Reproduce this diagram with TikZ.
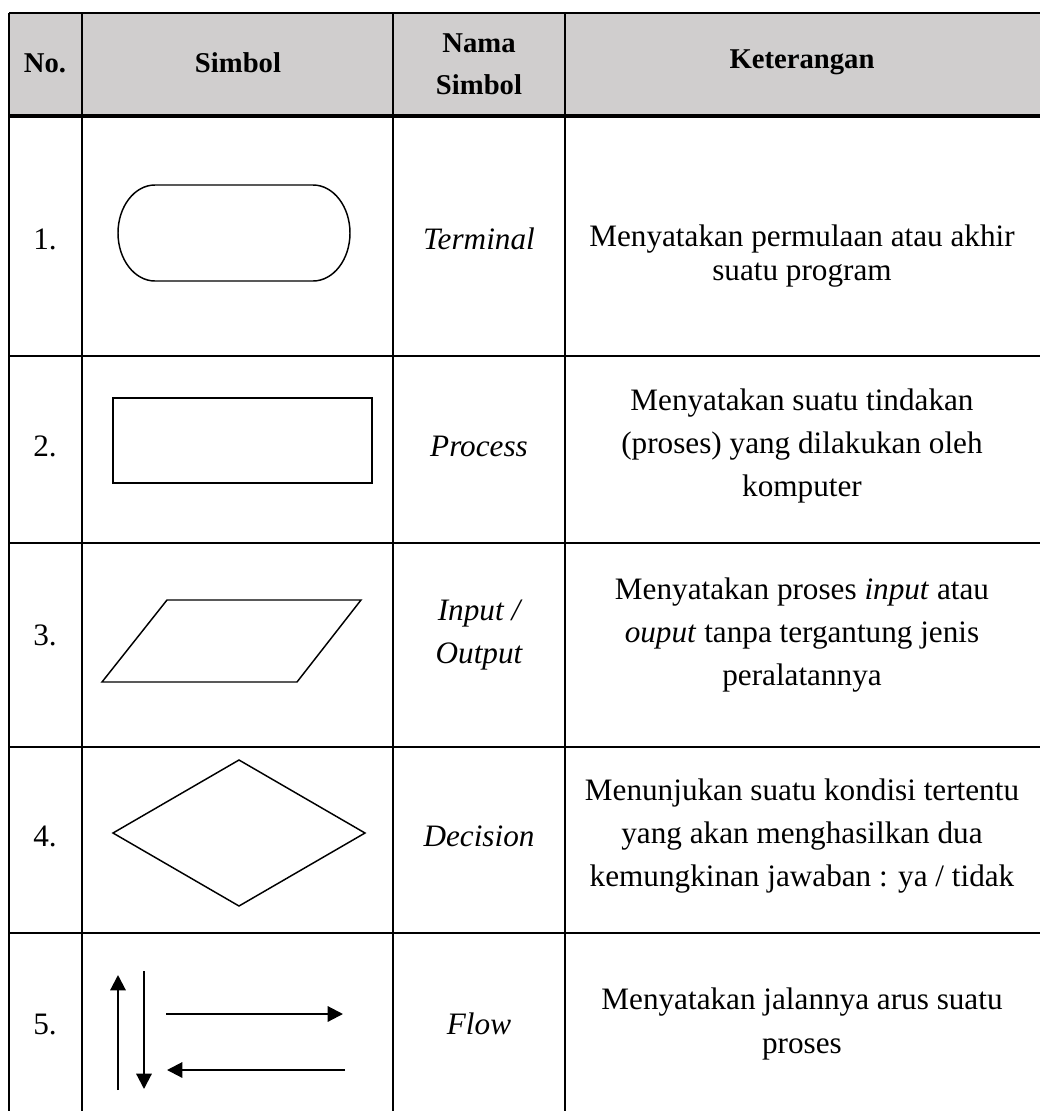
\documentclass[tikz,border=0pt]{standalone}
\usepackage{fontspec}
\setmainfont{Liberation Serif}
\usetikzlibrary{arrows.meta}
\definecolor{headgray}{RGB}{208,206,206}
\begin{document}
\begin{tikzpicture}[x=0.75pt,y=-0.75pt,
  grid/.style={line width=1.6pt},
  headline/.style={line width=2.3pt},
  shapeline/.style={line width=1.1pt, line join=miter},
  flowarrow/.style={line width=1.6pt,-{Triangle[length=11.5pt,width=11.5pt]}},
  txt/.style={font=\fontsize{23.4pt}{32.6pt}\selectfont, inner sep=0pt, align=center},
  tighttxt/.style={font=\fontsize{23.4pt}{25.5pt}\selectfont, inner sep=0pt, align=center},
  head/.style={font=\fontsize{21.5pt}{31.5pt}\selectfont\bfseries, inner sep=0pt, align=center}]
% canvas
\path[use as bounding box, fill=white] (0,0) rectangle (1040,1111);
% header fill
\fill[headgray] (9,13) rectangle (1040,116);
% grid
\draw[grid] (9,13) -- (1040,13);
\draw[headline] (9,116) -- (1040,116);
\foreach \yy in {356,543,747,933} \draw[grid] (9,\yy) -- (1040,\yy);
\foreach \xx in {9,82,393,565} \draw[grid] (\xx,13) -- (\xx,1111);
% header text
\node[head] (hno) at (45,63) {No.};
\node[head] (hsim) at (238,63) {Simbol};
\node[head] (hnama) at (479,64) {Nama\\Simbol};
\node[head] (hket) at (802,62) {Keterangan};
% row 1
\node[txt] (n1) at (45,239) {1.};
\draw[shapeline] (155,185) -- (313,185)
  .. controls (333.4,185) and (350,206.5) .. (350,233)
  .. controls (350,259.5) and (333.4,281) .. (313,281)
  -- (155,281)
  .. controls (134.6,281) and (118,259.5) .. (118,233)
  .. controls (118,206.5) and (134.6,185) .. (155,185) -- cycle;
\node[txt] (s1) at (479,239) {\itshape Terminal};
\node[tighttxt] (k1) at (802,256) {Menyatakan permulaan atau akhir\\suatu program};
% row 2
\node[txt] (n2) at (45,446) {2.};
\draw[shapeline] (113,398) rectangle (372,483);
\node[txt] (s2) at (479,446) {\itshape Process};
\node[txt] (k2) at (802,446) {Menyatakan suatu tindakan\\(proses) yang dilakukan oleh\\komputer};
% row 3
\node[txt] (n3) at (45,635) {3.};
\draw[shapeline] (167,600) -- (361,600) -- (297,682) -- (102,682) -- cycle;
\node[txt] (s3) at (479,635) {\itshape Input /\\\itshape Output};
\node[txt] (k3) at (802,635) {Menyatakan proses \textit{input} atau\\\textit{ouput} tanpa tergantung jenis\\peralatannya};
% row 4
\node[txt] (n4) at (45,836) {4.};
\draw[shapeline] (113,833) -- (239,760) -- (365,833) -- (239,906) -- cycle;
\node[txt] (s4) at (479,836) {\itshape Decision};
\node[txt] (k4) at (802,836) {Menunjukan suatu kondisi tertentu\\yang akan menghasilkan dua\\kemungkinan jawaban : ya / tidak};
% row 5
\node[txt] (n5) at (45,1024) {5.};
\coordinate (upS) at (118,1090);
\coordinate (upE) at (118,975);
\coordinate (dnS) at (144,971);
\coordinate (dnE) at (144,1089);
\coordinate (rtS) at (166,1014);
\coordinate (rtE) at (343,1014);
\coordinate (ltS) at (345,1070);
\coordinate (ltE) at (167,1070);
\draw[flowarrow] (upS) -- (upE);
\draw[flowarrow] (dnS) -- (dnE);
\draw[flowarrow] (rtS) -- (rtE);
\draw[flowarrow] (ltS) -- (ltE);
\node[txt] (s5) at (479,1024) {\itshape Flow};
\node[txt] (k5) at (802,1024) {Menyatakan jalannya arus suatu\\proses};
\end{tikzpicture}
\end{document}
